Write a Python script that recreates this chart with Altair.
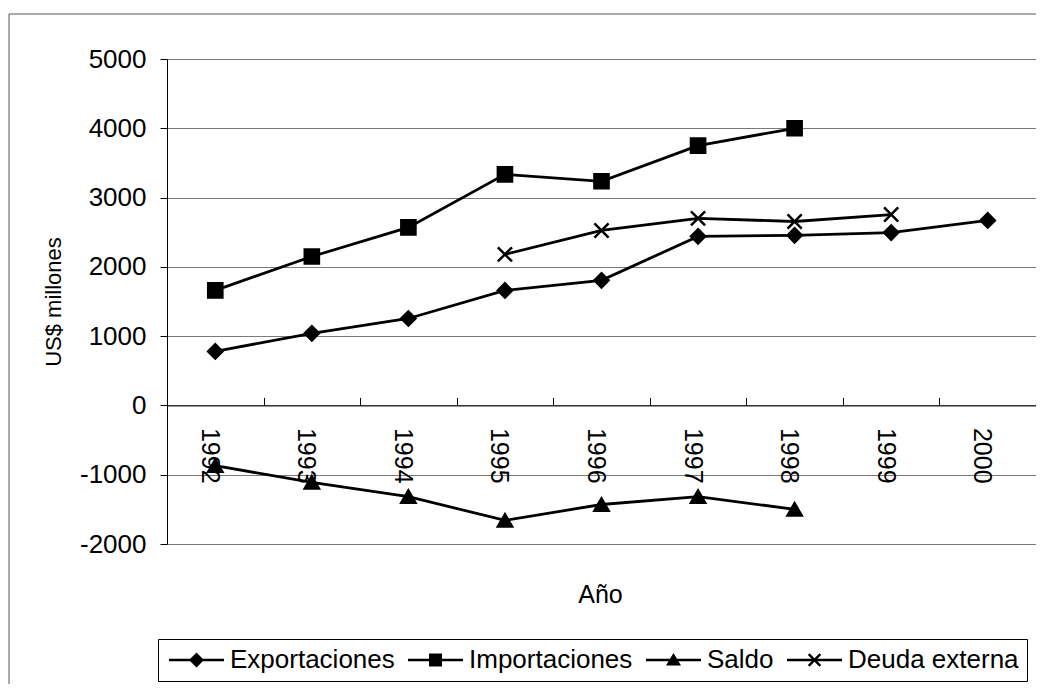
import altair as alt
import pandas as pd

years = [1992, 1993, 1994, 1995, 1996, 1997, 1998, 1999, 2000]
exportaciones = [780, 1040, 1255, 1660, 1805, 2440, 2455, 2495, 2670]
importaciones = [1660, 2150, 2570, 3335, 3235, 3750, 4000, None, None]
saldo = [-870, -1110, -1315, -1660, -1430, -1315, -1500, None, None]
deuda_externa = [None, None, None, 2180, 2525, 2700, 2655, 2755, None]
series_names = ["Exportaciones", "Importaciones", "Saldo", "Deuda externa"]
y_ticks = [-2000, -1000, 0, 1000, 2000, 3000, 4000, 5000]
cat_bounds = [1991.5, 1992.5, 1993.5, 1994.5, 1995.5, 1996.5, 1997.5, 1998.5, 1999.5, 2000.5]

rows = []
for name, vals in zip(series_names, [exportaciones, importaciones, saldo, deuda_externa]):
    for yr, v in zip(years, vals):
        if v is not None:
            rows.append({"Año": yr, "Serie": name, "Valor": v})
df = pd.DataFrame(rows)

W, H = 869, 485
FONT = "Liberation Sans"
x_scale = alt.Scale(domain=[1991.5, 2000.5], nice=False, zero=False)
y_scale = alt.Scale(domain=[-2000, 5000], nice=False, zero=False)
zero_from_top = H * 5000 / 7000
zero_from_bottom = H * 2000 / 7000

plot_shapes = ["diamond", "square", "triangle-up", "M-1,-1L1,1M1,-1L-1,1"]
# legend glyphs (all filled geometry): a thin bar with the marker in its middle
BAR = "M-1,-0.13L4.5,-0.13L4.5,0.13L-1,0.13Z"
legend_shapes = [
    BAR + "M1.75,-0.75L2.5,0L1.75,0.75L1,0Z",
    BAR + "M1.1,-0.65L2.4,-0.65L2.4,0.65L1.1,0.65Z",
    BAR + "M1.75,-0.7L2.5,0.55L1,0.55Z",
    BAR + "M1.255,-0.665L2.415,0.495L2.245,0.665L1.085,-0.495Z"
        + "M2.415,-0.495L1.255,0.665L1.085,0.495L2.245,-0.665Z",
]

label_axis = alt.Axis(
    orient="bottom", offset=-zero_from_bottom, values=years, format="d",
    labelAngle=90, labelFontSize=25, labelFont=FONT, labelColor="black",
    labelPadding=22, labelOffset=-6, ticks=False, tickSize=0, domain=False, grid=False,
    title="Año", titleFontSize=25, titleFont=FONT, titleFontWeight="normal",
    titleColor="black", titleX=433, titleY=197, titleBaseline="alphabetic",
    titleAlign="center",
)
tick_axis = alt.Axis(
    orient="top", offset=-zero_from_top, values=cat_bounds, labels=False,
    ticks=True, tickSize=8, tickColor="black", tickWidth=1,
    domain=True, domainColor="black", domainWidth=1, grid=False, title="",
)
y_axis = alt.Axis(
    values=y_ticks, labelExpr="'' + datum.value", labelFontSize=26, labelFont=FONT,
    labelColor="black", labelPadding=14, tickSize=7, tickColor="black", domainColor="black",
    grid=True, gridColor="#7a7a7a", gridWidth=1,
    title="US$ millones", titleFontSize=22, titleFont=FONT, titleFontWeight="normal",
    titleColor="black", titleAngle=270, titleX=-107, titleY=H / 2,
    titleBaseline="alphabetic", titleAlign="center",
)

legend_def = alt.Legend(
    orient="none", legendX=-9, legendY=580, direction="horizontal", columns=4,
    title=None, strokeColor="black", padding=8,
    labelFontSize=26, labelFont=FONT, labelColor="black", labelOffset=38, labelLimit=400,
    symbolSize=400, symbolFillColor="black", symbolOpacity=1,
    columnPadding=10,
)

base = alt.Chart(df)

lines = base.mark_line(color="black", strokeWidth=2.8).encode(
    x=alt.X("Año:Q", scale=x_scale, axis=label_axis),
    y=alt.Y("Valor:Q", scale=y_scale, axis=y_axis),
    detail="Serie:N",
)

points = base.mark_point(filled=True, fill="black", stroke="black", strokeWidth=2.5, opacity=1, size=200).encode(
    x=alt.X("Año:Q", scale=x_scale, axis=tick_axis),
    y=alt.Y("Valor:Q", scale=y_scale, axis=None),
    shape=alt.Shape("Serie:N", scale=alt.Scale(domain=series_names, range=plot_shapes), legend=None),
)

legend_layer = base.mark_point(filled=True, fill="black", opacity=0).encode(
    x=alt.X("Año:Q", scale=x_scale, axis=None),
    y=alt.Y("Valor:Q", scale=y_scale, axis=None),
    shape=alt.Shape("Serie:N", scale=alt.Scale(domain=series_names, range=legend_shapes), legend=legend_def),
)

frame = alt.Chart(alt.Data(values=[{"f": 1}])).mark_rect(
    filled=False, stroke="#555555", strokeWidth=1
).encode(
    x=alt.value(-158), x2=alt.value(W + 200), y=alt.value(-45), y2=alt.value(H + 300)
)

chart = alt.layer(frame, lines, points, legend_layer).resolve_scale(
    shape="independent"
).resolve_axis(x="independent", y="independent").properties(
    width=W, height=H,
    autosize=alt.AutoSizeParams(type="none"),
    padding={"left": 159, "top": 51, "right": 0, "bottom": 140},
    background="white",
).configure_view(stroke=None)

chart.save("out.html", embed_options={"renderer": "svg", "actions": False})
